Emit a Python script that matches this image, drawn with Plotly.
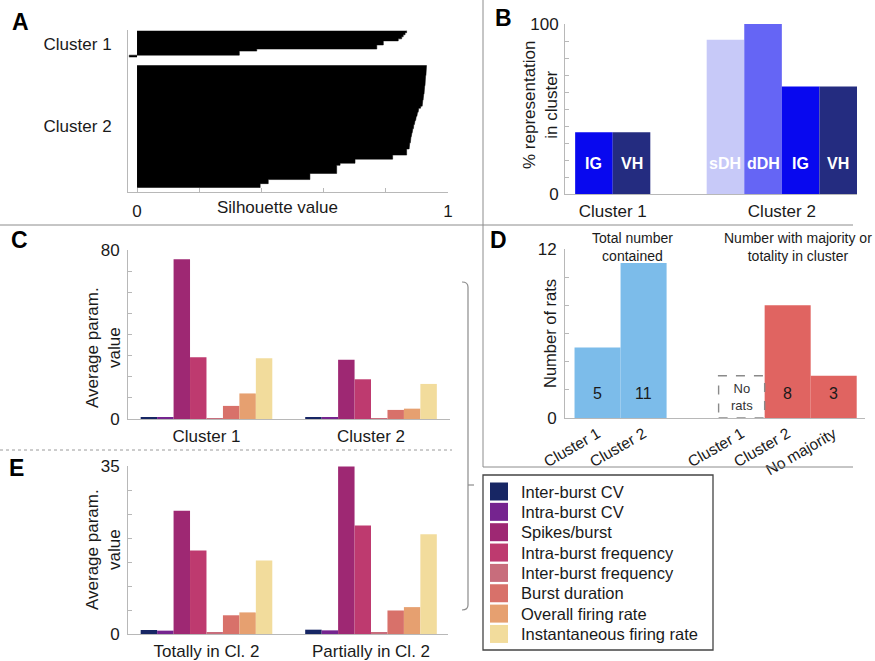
import numpy as np
import plotly.graph_objects as go

W, H = 875, 661
FONT = "Liberation Sans, Arial, Helvetica, sans-serif"
AXC = "#b8b8b8"
TXT = "#1a1a1a"
DIV = "#8c8c8c"

# ------------------------------------------------------------------ data
# Panel A: silhouette values (sorted, one row per unit)
sil_cluster1 = [0.867, 0.862, 0.856, 0.851, 0.840, 0.792, 0.792, 0.771, 0.771,
                0.385, 0.329, 0.329, -0.025]
sil_cluster2 = [0.931, 0.930, 0.930, 0.929, 0.929, 0.928, 0.928, 0.927, 0.926,
                0.926, 0.925, 0.924, 0.924, 0.923, 0.922, 0.921, 0.920, 0.919, 0.918, 0.917,
                0.912, 0.906,
                0.904, 0.902, 0.900, 0.898, 0.896, 0.894, 0.892, 0.890,
                0.889, 0.887, 0.885, 0.884, 0.882,
                0.881, 0.880, 0.879, 0.877, 0.876, 0.875,
                0.867, 0.867, 0.867,
                0.822, 0.822,
                0.701, 0.701,
                0.653, 0.642, 0.642, 0.642, 0.642,
                0.556, 0.556, 0.556,
                0.422, 0.422,
                0.396, 0.396]
sil_cluster_names = ["Cluster 1", "Cluster 2"]
sil_ticks = [0, 0.2, 0.4, 0.6, 0.8, 1.0]
sil_ticktext = ["0", "", "", "", "", "1"]

# Panel B: % representation of each region in cluster
b_cluster_names = ["Cluster 1", "Cluster 2"]
b_regions_c1 = ["IG", "VH"]
b_pct_c1 = [36.3, 36.3]
b_regions_c2 = ["sDH", "dDH", "IG", "VH"]
b_pct_c2 = [90.8, 100.0, 63.3, 63.3]

# Panels C and E: average parameter values
params = ["Inter-burst CV", "Intra-burst CV", "Spikes/burst", "Intra-burst frequency",
          "Inter-burst frequency", "Burst duration", "Overall firing rate",
          "Instantaneous firing rate"]
c_groups = ["Cluster 1", "Cluster 2"]
c_cluster1 = [0.95, 0.5, 75.6, 29.2, 0.45, 6.2, 12.1, 28.7]
c_cluster2 = [0.95, 0.55, 28.1, 18.8, 0.4, 4.3, 4.9, 16.6]
e_groups = ["Totally in Cl. 2", "Partially in Cl. 2"]
e_totally = [0.83, 0.7, 25.7, 17.4, 0.35, 3.9, 4.5, 15.3]
e_partially = [0.9, 0.76, 34.9, 22.6, 0.4, 4.9, 5.6, 20.8]

# Panel D: number of rats
d_total_labels = ["Cluster 1", "Cluster 2"]
d_total = [5, 11]
d_major_labels = ["Cluster 1", "Cluster 2", "No majority"]
d_major = [0, 8, 3]

# ------------------------------------------------------------------ styles
param_colors = ["#172664", "#75248f", "#9e2873", "#be3a6f", "#c86d7c",
                "#d8716a", "#e6a070", "#f2dc9c"]
region_colors = {"IG": "#0808ef", "VH": "#242c80", "sDH": "#c7c9f8", "dDH": "#6565f5"}
d_blue = "#7cbcea"
d_red = "#e06461"


def fx(px):
    return px / W


def fy(py):
    return 1 - py / H


fig = go.Figure()
ann = []
shapes = []

# ------------------------------------------------------------------ Panel A
# silhouette rows drawn as a filled step outline (one step per row)
gap_rows = 4
pos1 = np.arange(len(sil_cluster1))
pos2 = len(sil_cluster1) + gap_rows + np.arange(len(sil_cluster2))
for pos, vals in ((pos1, sil_cluster1), (pos2, sil_cluster2)):
    ys = (np.repeat(pos, 2) + np.tile([-0.5, 0.5], len(pos))).tolist()
    xs = np.repeat(np.asarray(vals), 2).tolist()
    fig.add_trace(go.Scatter(x=xs, y=ys, mode="lines", fill="tozerox", fillcolor="black",
                             line=dict(color="black", width=0.5),
                             xaxis="x", yaxis="y", showlegend=False, hoverinfo="x"))
sil_centers = [pos1.mean(), pos2.mean()]
ann.append(dict(text="Silhouette value", x=0.453, y=fy(208), xref="x", yref="paper",
                showarrow=False, font=dict(size=17, color=TXT), xanchor="center", yanchor="middle"))

# ------------------------------------------------------------------ Panel B
b_pos_c1 = 1 + np.arange(len(b_regions_c1))
b_pos_c2 = 4.5 + np.arange(len(b_regions_c2))
b_pos = list(b_pos_c1) + list(b_pos_c2)
b_lab = b_regions_c1 + b_regions_c2
b_val = b_pct_c1 + b_pct_c2
fig.add_trace(go.Bar(x=b_pos, y=b_val, width=1.0,
                     marker=dict(color=[region_colors[r] for r in b_lab], line=dict(width=0)),
                     xaxis="x2", yaxis="y2", showlegend=False))
label_level = 18
for p, l in zip(b_pos, b_lab):
    ann.append(dict(text="<b>%s</b>" % l, x=p, y=label_level, xref="x2", yref="y2",
                    showarrow=False, font=dict(size=16, color="white"),
                    xanchor="center", yanchor="middle"))
b_centers = [b_pos_c1.mean(), b_pos_c2.mean()]

# ------------------------------------------------------------------ Panels C and E
group_step = 10
for i, (name, col) in enumerate(zip(params, param_colors)):
    xs = [g * group_step + i for g in range(2)]
    fig.add_trace(go.Bar(x=xs, y=[c_cluster1[i], c_cluster2[i]], width=1.0,
                         marker=dict(color=col, line=dict(width=0)), name=name,
                         xaxis="x3", yaxis="y3", showlegend=False))
    fig.add_trace(go.Bar(x=xs, y=[e_totally[i], e_partially[i]], width=1.0,
                         marker=dict(color=col, line=dict(width=0)), name=name,
                         xaxis="x5", yaxis="y5", showlegend=False))
grp_centers = [g * group_step + (len(params) - 1) / 2 for g in range(2)]

# ------------------------------------------------------------------ Panel D
d_pos1 = np.arange(len(d_total)).astype(float)
d_pos2 = 3.13 + np.arange(len(d_major))
fig.add_trace(go.Bar(x=d_pos1, y=d_total, width=1.0, marker=dict(color=d_blue, line=dict(width=0)),
                     xaxis="x4", yaxis="y4", showlegend=False))
fig.add_trace(go.Bar(x=d_pos2, y=d_major, width=1.0, marker=dict(color=d_red, line=dict(width=0)),
                     xaxis="x4", yaxis="y4", showlegend=False))
count_level = 1.75
placeholder_h = 3
for p, v in zip(list(d_pos1) + list(d_pos2), d_total + d_major):
    if v == 0:
        shapes.append(dict(type="rect", xref="x4", yref="y4", x0=p - 0.5, x1=p + 0.5,
                           y0=0, y1=placeholder_h,
                           line=dict(color="#8a8a8a", width=1.4, dash="dash")))
        ann.append(dict(text="No<br>rats", x=p, y=placeholder_h / 2, xref="x4", yref="y4",
                        showarrow=False, font=dict(size=13, color="#333"),
                        xanchor="center", yanchor="middle"))
    else:
        ann.append(dict(text=str(v), x=p, y=count_level, xref="x4", yref="y4",
                        showarrow=False, font=dict(size=16, color=TXT),
                        xanchor="center", yanchor="middle"))
ann.append(dict(text="Total number<br>contained", x=fx(632), y=fy(247), xref="paper", yref="paper",
                showarrow=False, font=dict(size=14, color=TXT), xanchor="center", yanchor="middle"))
ann.append(dict(text="Number with majority or<br>totality in cluster", x=fx(798), y=fy(247),
                xref="paper", yref="paper",
                showarrow=False, font=dict(size=14, color=TXT), xanchor="center", yanchor="middle"))

# ------------------------------------------------------------------ axis titles
def ytitle(text, xpx, ypx, size=16):
    ann.append(dict(text=text, x=fx(xpx), y=fy(ypx), xref="paper", yref="paper", textangle=-90,
                    showarrow=False, font=dict(size=size, color=TXT),
                    xanchor="center", yanchor="middle"))


ytitle("% representation<br>in cluster", 540, 105, 17)
ytitle("Average param.<br>value", 103, 348, 17)
ytitle("Number of rats", 550, 334, 16.5)
ytitle("Average param.<br>value", 103, 550, 17)

# panel letters
for letter, xpx, ypx in (("A", 20, 22), ("B", 503, 18), ("C", 19, 240), ("D", 498, 240), ("E", 16, 468)):
    ann.append(dict(text="<b>%s</b>" % letter, x=fx(xpx), y=fy(ypx), xref="paper", yref="paper",
                    showarrow=False, font=dict(size=23, color="black"),
                    xanchor="center", yanchor="middle"))

# ------------------------------------------------------------------ divider lines
def pline(x0, y0, x1, y1, color=DIV, width=1, dash="solid"):
    shapes.append(dict(type="line", xref="paper", yref="paper", x0=fx(x0), y0=fy(y0),
                       x1=fx(x1), y1=fy(y1), line=dict(color=color, width=width, dash=dash)))


pline(0, 225, 853, 225)
pline(483, 0, 483, 467)
pline(483, 467, 853, 467)
pline(0, 450, 452, 450, color="#9a9a9a", width=1, dash="dot")

# bracket
bx = 468
path = ("M %f,%f Q %f,%f %f,%f L %f,%f Q %f,%f %f,%f" %
        (fx(462), fy(282), fx(bx), fy(282), fx(bx), fy(287),
         fx(bx), fy(605), fx(bx), fy(610), fx(462), fy(610)))
shapes.append(dict(type="path", xref="paper", yref="paper", path=path,
                   line=dict(color="#8c8c8c", width=1.2)))
pline(bx, 485, 474, 485, color="#8c8c8c", width=1.2)

# ------------------------------------------------------------------ manual legend
shapes.append(dict(type="rect", xref="paper", yref="paper", x0=fx(483), x1=fx(713),
                   y0=fy(650), y1=fy(475), line=dict(color="#444", width=1.3), fillcolor="white",
                   layer="below"))
for i, (name, col) in enumerate(zip(params, param_colors)):
    yc = 491.5 + 20.35 * i
    shapes.append(dict(type="rect", xref="paper", yref="paper", x0=fx(490), x1=fx(508),
                       y0=fy(yc + 9), y1=fy(yc - 9), line=dict(width=0), fillcolor=col))
    ann.append(dict(text=name, x=fx(519), y=fy(yc), xref="paper", yref="paper", showarrow=False,
                    font=dict(size=16.5, color=TXT), xanchor="left", yanchor="middle"))

# ------------------------------------------------------------------ axes
base = dict(showgrid=False, zeroline=False, showline=True, linecolor=AXC, linewidth=1,
            automargin=False,
            tickfont=dict(size=17, color=TXT, family=FONT), tickcolor=AXC, ticklen=4)

fig.update_layout(
    width=W, height=H, margin=dict(l=0, r=0, t=0, b=0, pad=0, autoexpand=False),
    paper_bgcolor="white", plot_bgcolor="white",
    font=dict(family=FONT, color=TXT), showlegend=False, barmode="overlay",
    annotations=ann, shapes=shapes,
    xaxis=dict(base, domain=[fx(128), fx(448)], range=[-0.029, 1.0], anchor="y",
               tickvals=sil_ticks, ticktext=sil_ticktext, ticks="inside", ticklabelstandoff=4),
    yaxis=dict(base, domain=[fy(192), fy(30)], range=[78.6, -0.84], anchor="x",
               tickvals=sil_centers, ticktext=sil_cluster_names, ticks="", ticklabelstandoff=12),
    xaxis2=dict(base, domain=[fx(565), fx(857)], range=[0.23, 8.0], anchor="y2",
                tickvals=b_centers, ticktext=b_cluster_names, ticks="", ticklabelstandoff=2),
    yaxis2=dict(base, domain=[fy(194), fy(24)], range=[0, 100], anchor="x2",
                tickvals=list(range(0, 101, 10)),
                ticktext=["0"] + [""] * 9 + ["100"], ticks="inside", ticklabelstandoff=2),
    xaxis3=dict(base, domain=[fx(128), fx(450)], range=[-1.27, 18.3], anchor="y3",
                tickvals=grp_centers, ticktext=c_groups, ticks="", ticklabelstandoff=2),
    yaxis3=dict(base, domain=[fy(419), fy(250)], range=[0, 80], anchor="x3",
                tickvals=list(range(0, 81, 10)),
                ticktext=["0"] + [""] * 7 + ["80"], ticks="inside", ticklabelstandoff=4),
    xaxis4=dict(base, domain=[fx(565), fx(865)], range=[-0.707, 5.81], anchor="y4",
                tickvals=list(d_pos1) + list(d_pos2), ticktext=d_total_labels + d_major_labels,
                ticks="", tickangle=-30, tickfont=dict(size=15.5, color=TXT, family=FONT)),
    yaxis4=dict(base, domain=[fy(418), fy(249)], range=[0, 12], anchor="x4",
                tickvals=list(range(0, 13, 2)),
                ticktext=["0"] + [""] * 5 + ["12"], ticks="inside", ticklabelstandoff=4),
    xaxis5=dict(base, domain=[fx(128), fx(448)], range=[-1.27, 18.18], anchor="y5",
                tickvals=grp_centers, ticktext=e_groups, ticks="", ticklabelstandoff=2),
    yaxis5=dict(base, domain=[fy(634), fy(466)], range=[0, 35], anchor="x5",
                tickvals=list(range(0, 36, 5)),
                ticktext=["0"] + [""] * 6 + ["35"], ticks="inside", ticklabelstandoff=4),
)

fig.write_html("out.html")
